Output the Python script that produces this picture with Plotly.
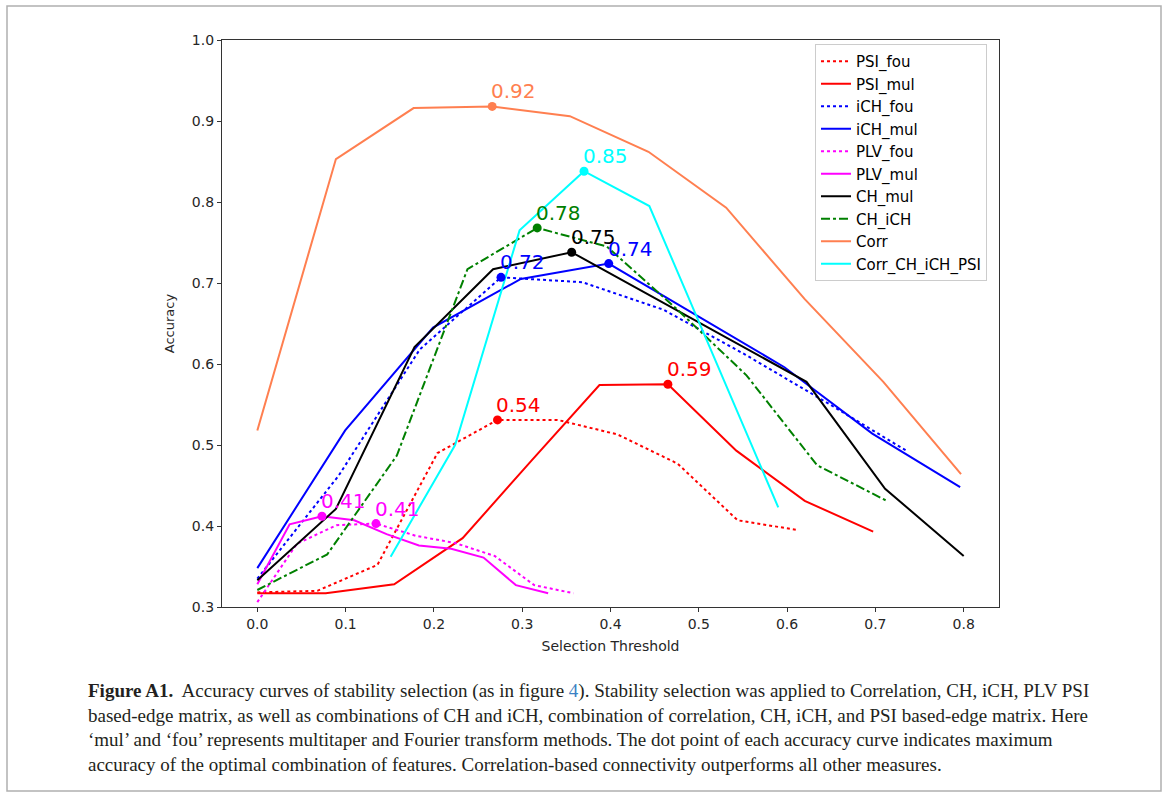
import plotly.graph_objects as go
import numpy as np

# ---------------- data ----------------
names = ["PSI_fou", "PSI_mul", "iCH_fou", "iCH_mul", "PLV_fou", "PLV_mul",
         "CH_mul", "CH_iCH", "Corr", "Corr_CH_iCH_PSI"]

psi_fou_x = [0, 0.068, 0.136, 0.204, 0.272, 0.340, 0.408, 0.476, 0.544, 0.612]
psi_fou_y = [0.318, 0.320, 0.352, 0.490, 0.531, 0.531, 0.513, 0.477, 0.407, 0.395]

psi_mul_x = [0, 0.0775, 0.155, 0.2325, 0.310, 0.3875, 0.465, 0.5425, 0.620, 0.6975]
psi_mul_y = [0.317, 0.317, 0.328, 0.385, 0.480, 0.574, 0.575, 0.493, 0.431, 0.393]

ich_fou_x = [0, 0.092, 0.184, 0.276, 0.368, 0.460, 0.552, 0.644, 0.735]
ich_fou_y = [0.335, 0.462, 0.618, 0.707, 0.701, 0.667, 0.612, 0.553, 0.493]

ich_mul_x = [0, 0.0995, 0.199, 0.2985, 0.398, 0.4975, 0.597, 0.6965, 0.796]
ich_mul_y = [0.348, 0.518, 0.645, 0.705, 0.724, 0.660, 0.596, 0.514, 0.448]

plv_fou_x = [0, 0.0448, 0.0896, 0.1344, 0.1792, 0.224, 0.2688, 0.3136, 0.358]
plv_fou_y = [0.306, 0.378, 0.401, 0.403, 0.388, 0.379, 0.363, 0.327, 0.317]

plv_mul_x = [0, 0.0366, 0.0732, 0.1098, 0.1464, 0.183, 0.2196, 0.2562, 0.2928, 0.3294]
plv_mul_y = [0.328, 0.402, 0.412, 0.407, 0.390, 0.376, 0.372, 0.361, 0.327, 0.317]

ch_mul_x = [0, 0.089, 0.178, 0.267, 0.356, 0.444, 0.533, 0.622, 0.711, 0.800]
ch_mul_y = [0.333, 0.421, 0.621, 0.717, 0.738, 0.685, 0.632, 0.578, 0.446, 0.363]

ch_ich_x = [0, 0.0792, 0.158, 0.238, 0.317, 0.396, 0.475, 0.554, 0.634, 0.713]
ch_ich_y = [0.321, 0.365, 0.487, 0.717, 0.768, 0.745, 0.668, 0.586, 0.475, 0.431]

corr_x = [0, 0.089, 0.177, 0.266, 0.354, 0.443, 0.531, 0.620, 0.709, 0.797]
corr_y = [0.518, 0.853, 0.916, 0.918, 0.906, 0.862, 0.793, 0.680, 0.578, 0.464]

combo_x = [0.151, 0.224, 0.297, 0.370, 0.444, 0.517, 0.590]
combo_y = [0.362, 0.500, 0.765, 0.838, 0.795, 0.609, 0.423]

peak_labels = ["0.54", "0.59", "0.72", "0.74", "0.41", "0.41", "0.75", "0.78", "0.92", "0.85"]

x_ticks = [0.0, 0.1, 0.2, 0.3, 0.4, 0.5, 0.6, 0.7, 0.8]
y_ticks = [0.3, 0.4, 0.5, 0.6, 0.7, 0.8, 0.9, 1.0]

# ---------------- styles ----------------
xs = [psi_fou_x, psi_mul_x, ich_fou_x, ich_mul_x, plv_fou_x, plv_mul_x,
      ch_mul_x, ch_ich_x, corr_x, combo_x]
ys = [psi_fou_y, psi_mul_y, ich_fou_y, ich_mul_y, plv_fou_y, plv_mul_y,
      ch_mul_y, ch_ich_y, corr_y, combo_y]
colors = ["#ff0000", "#ff0000", "#0000ff", "#0000ff", "#ff00ff", "#ff00ff",
          "#000000", "#008000", "#ff7f50", "#00ffff"]
dashes = ["dot", "solid", "dot", "solid", "dot", "solid", "solid", "dashdot", "solid", "solid"]

fig = go.Figure()
for i, n in enumerate(names):
    fig.add_trace(go.Scatter(
        x=xs[i], y=ys[i], mode="lines", name=n, legendgroup=n,
        line=dict(color=colors[i], width=2, dash=dashes[i]),
    ))

annotations = []
for i, n in enumerate(names):
    k = int(np.argmax(ys[i]))
    fig.add_trace(go.Scatter(
        x=[xs[i][k]], y=[ys[i][k]], mode="markers", showlegend=False,
        marker=dict(color=colors[i], size=9), hoverinfo="skip",
    ))
    annotations.append(dict(
        x=xs[i][k], y=ys[i][k], xref="x", yref="y", text=peak_labels[i],
        showarrow=False, xanchor="left", yanchor="bottom", xshift=-3, yshift=1,
        font=dict(family="DejaVu Sans", size=20, color=colors[i]),
    ))

W, H = 1165, 798
L, R, T, B = 222, 999, 40, 607
pw, ph = R - L, B - T

def px(xp):
    return (xp - L) / pw

def py(yp):
    return (B - yp) / ph

caption = (
    "<b>Figure A1.</b>  Accuracy curves of stability selection (as in figure "
    "<span style='color:#3b82c4'>4</span>). Stability selection was applied to Correlation, CH, iCH, PLV PSI<br>"
    "based-edge matrix, as well as combinations of CH and iCH, combination of correlation, CH, iCH, and PSI based-edge matrix. Here<br>"
    "\u2018mul\u2019 and \u2018fou\u2019 represents multitaper and Fourier transform methods. The dot point of each accuracy curve indicates maximum<br>"
    "accuracy of the optimal combination of features. Correlation-based connectivity outperforms all other measures."
)
annotations.append(dict(
    x=px(86), y=py(678), xref="paper", yref="paper", xanchor="left", yanchor="top",
    text=caption, showarrow=False, align="left",
    font=dict(family="Liberation Serif", size=19, color="#231f20"),
))

fig.update_layout(
    width=W, height=H,
    margin=dict(l=L, r=W - R, t=T, b=H - B, autoexpand=False),
    paper_bgcolor="white", plot_bgcolor="white",
    font=dict(family="DejaVu Sans", size=14, color="#262626"),
    annotations=annotations,
    legend=dict(
        x=px(815), y=py(44), xanchor="left", yanchor="top",
        bgcolor="rgba(255,255,255,0.8)", bordercolor="#cccccc", borderwidth=1,
        font=dict(family="DejaVu Sans", size=15, color="#000000"),
        tracegroupgap=0, itemwidth=30,
    ),
    shapes=[dict(type="rect", xref="paper", yref="paper",
                 x0=px(7), x1=px(1161), y0=py(791), y1=py(6),
                 line=dict(color="#b0b0b0", width=1.5), layer="below")],
    xaxis=dict(
        range=[-0.04, 0.84], tickvals=x_ticks, ticktext=[f"{v:.1f}" for v in x_ticks],
        showgrid=False, zeroline=False, showline=True, linecolor="#333333", linewidth=1.2,
        mirror=True, ticks="outside", ticklen=4, tickcolor="#333333",
        title=dict(text="Selection Threshold", font=dict(size=14), standoff=10),
    ),
    yaxis=dict(
        range=[0.3, 1.0], tickvals=y_ticks, ticktext=[f"{v:.1f}" for v in y_ticks],
        showgrid=False, zeroline=False, showline=True, linecolor="#333333", linewidth=1.2,
        mirror=True, ticks="outside", ticklen=4, tickcolor="#333333",
        title=dict(text="Accuracy", font=dict(size=13), standoff=14),
    ),
)

fig.write_html("out.html", config={"displayModeBar": False},
               post_script="document.body.style.margin='0px';")
